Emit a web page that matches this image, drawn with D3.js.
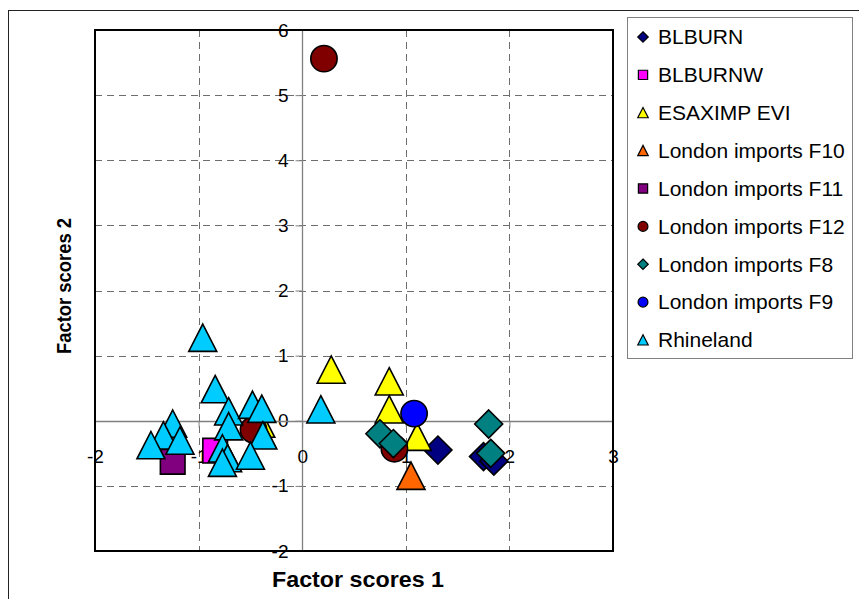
<!DOCTYPE html>
<html>
<head>
<meta charset="utf-8">
<script src="https://cdn.jsdelivr.net/npm/d3@7/dist/d3.min.js"></script>
<style>
  html, body { margin: 0; padding: 0; background: #fff; }
  svg { display: block; font-family: "Liberation Sans", Arial, sans-serif; }
</style>
</head>
<body>
<svg id="chart" width="859" height="599"></svg>
<script>
// Series, in drawing order (later series sit on top)
const seriesNames = ["BLBURN", "BLBURNW", "ESAXIMP EVI", "London imports F10", "London imports F11",
  "London imports F12", "London imports F8", "London imports F9", "Rhineland"];
const seriesColors = ["#000080", "#FF00FF", "#FFFF00", "#FF6600", "#800080",
  "#800000", "#008080", "#0000FF", "#00CCFF"];
const seriesShapes = ["diamond", "square", "triangle", "triangle", "square",
  "circle", "diamond", "circle", "triangle"];

// Factor scores [score 1, score 2] per sample
const blburn = [[1.31, -0.45], [1.75, -0.55], [1.85, -0.62]];
const blburnw = [[-0.84, -0.46]];
const esaximpEvi = [[0.28, 0.78], [0.84, 0.60], [0.84, 0.17], [1.11, -0.25], [-0.40, -0.05]];
const londonF10 = [[1.05, -0.85]];
const londonF11 = [[-1.25, -0.63]];
const londonF12 = [[0.21, 5.56], [0.89, -0.43], [-0.47, -0.14]];
const londonF8 = [[0.75, -0.20], [0.88, -0.35], [1.80, -0.05], [1.82, -0.50]];
const londonF9 = [[1.08, 0.11]];
const rhineland = [[-0.96, 1.27], [-0.84, 0.48], [-0.71, 0.14], [-0.48, 0.24], [-0.39, 0.18],
  [-0.71, -0.09], [-0.38, -0.23], [-0.77, -0.43], [-0.72, -0.58], [-0.77, -0.65], [-0.50, -0.54],
  [-1.25, -0.05], [-1.34, -0.23], [-1.46, -0.38], [-1.18, -0.31], [0.18, 0.17]];
const seriesValues = [blburn, blburnw, esaximpEvi, londonF10, londonF11, londonF12, londonF8, londonF9, rhineland];

// Axis ticks
const xTicks = [-2, -1, 0, 1, 2, 3];
const yTicks = [6, 5, 4, 3, 2, 1, 0, -1, -2];
const xTitle = "Factor scores 1";
const yTitle = "Factor scores 2";

const svg = d3.select("#chart");
const plot = { left: 95, right: 613, top: 30, bottom: 551 };

const x = d3.scaleLinear().domain([-2, 3]).range([plot.left, plot.right]);
const y = d3.scaleLinear().domain([-2, 6]).range([plot.bottom, plot.top]);

// Outer chart frame
svg.append("rect")
  .attr("x", 8.5).attr("y", 10.5).attr("width", 900).attr("height", 700)
  .attr("fill", "#fff").attr("stroke", "#222").attr("stroke-width", 1);

// Plot area background
svg.append("rect")
  .attr("x", plot.left).attr("y", plot.top)
  .attr("width", plot.right - plot.left).attr("height", plot.bottom - plot.top)
  .attr("fill", "#fff");

// Dashed gridlines
const grid = svg.append("g").attr("stroke", "#6e6e6e").attr("stroke-width", 1).attr("stroke-dasharray", "7,5");
grid.selectAll("line.v").data(xTicks.filter(d => d !== 0 && d !== -2 && d !== 3)).join("line")
  .attr("x1", d => Math.round(x(d)) + 0.5).attr("x2", d => Math.round(x(d)) + 0.5)
  .attr("y1", plot.top).attr("y2", plot.bottom);
grid.selectAll("line.h").data(yTicks.filter(d => d !== 0 && d !== 6 && d !== -2)).join("line")
  .attr("y1", d => Math.round(y(d)) + 0.5).attr("y2", d => Math.round(y(d)) + 0.5)
  .attr("x1", plot.left).attr("x2", plot.right);

// Zero axes with their tick marks and labels (plain hyphen for negatives)
const x0 = Math.round(x(0)) + 0.5, y0 = Math.round(y(0)) + 0.5;
const fmt = d => String(d);
const yAxis = d3.axisLeft(y).tickValues(yTicks).tickSize(7).tickPadding(7).tickFormat(fmt);
const xAxis = d3.axisBottom(x).tickValues(xTicks).tickSize(6).tickPadding(22).tickFormat(fmt);

const gy = svg.append("g").attr("transform", `translate(${x0},0)`).call(yAxis);
const gx = svg.append("g").attr("transform", `translate(0,${y0})`).call(xAxis);
[gx, gy].forEach(g => {
  g.select(".domain").attr("stroke", "#808080").attr("stroke-width", 1.3);
  g.selectAll(".tick line").attr("stroke", "#808080");
  g.selectAll(".tick text").attr("fill", "#000").attr("font-size", 19)
    .attr("font-family", "Liberation Sans, Arial, sans-serif");
});
gx.select(".domain").attr("d", `M${plot.left},0H${plot.right}`);
gy.select(".domain").attr("d", `M0,${plot.top}V${plot.bottom}`);

// Plot area frame
svg.append("rect")
  .attr("x", plot.left).attr("y", plot.top)
  .attr("width", plot.right - plot.left).attr("height", plot.bottom - plot.top)
  .attr("fill", "none").attr("stroke", "#000").attr("stroke-width", 2);

// Marker shapes
function markerPath(shape, s) {
  const h = s / 2;
  switch (shape) {
    case "diamond": return `M0,${-h}L${h},0L0,${h}L${-h},0Z`;
    case "square": { const q = h * 0.88; return `M${-q},${-q}H${q}V${q}H${-q}Z`; }
    case "triangle": return `M0,${-h}L${h},${h * 0.95}L${-h},${h * 0.95}Z`;
    default: return d3.arc()({ innerRadius: 0, outerRadius: h * 0.94, startAngle: 0, endAngle: 2 * Math.PI });
  }
}

// Scatter markers
const marks = svg.append("g");
seriesValues.forEach((vals, i) => {
  marks.append("g").selectAll("path").data(vals).join("path")
    .attr("d", markerPath(seriesShapes[i], 28))
    .attr("transform", d => `translate(${x(d[0])},${y(d[1])})`)
    .attr("fill", seriesColors[i])
    .attr("stroke", "#000").attr("stroke-width", 1.6);
});

// Axis titles
svg.append("text")
  .attr("x", 358).attr("y", 587)
  .attr("text-anchor", "middle").attr("font-weight", "bold").attr("font-size", 22)
  .attr("textLength", 172).attr("lengthAdjust", "spacingAndGlyphs")
  .text(xTitle);
svg.append("text")
  .attr("transform", `translate(71,286) rotate(-90)`)
  .attr("text-anchor", "middle").attr("font-weight", "bold").attr("font-size", 20)
  .attr("textLength", 136).attr("lengthAdjust", "spacingAndGlyphs")
  .text(yTitle);

// Legend
const legend = svg.append("g");
legend.append("rect")
  .attr("x", 627.5).attr("y", 17.5).attr("width", 225).attr("height", 341)
  .attr("fill", "#fff").attr("stroke", "#808080").attr("stroke-width", 1);
const rowY = d3.scalePoint().domain(seriesNames).range([37, 340]);
seriesNames.forEach((name, i) => {
  const g = legend.append("g").attr("transform", `translate(643,${rowY(name)})`);
  g.append("path").attr("d", markerPath(seriesShapes[i], 10.5))
    .attr("fill", seriesColors[i]).attr("stroke", "#000").attr("stroke-width", 1.2);
  g.append("text").attr("x", 15).attr("dy", "0.35em").attr("font-size", 21).text(name);
});
</script>
</body>
</html>
